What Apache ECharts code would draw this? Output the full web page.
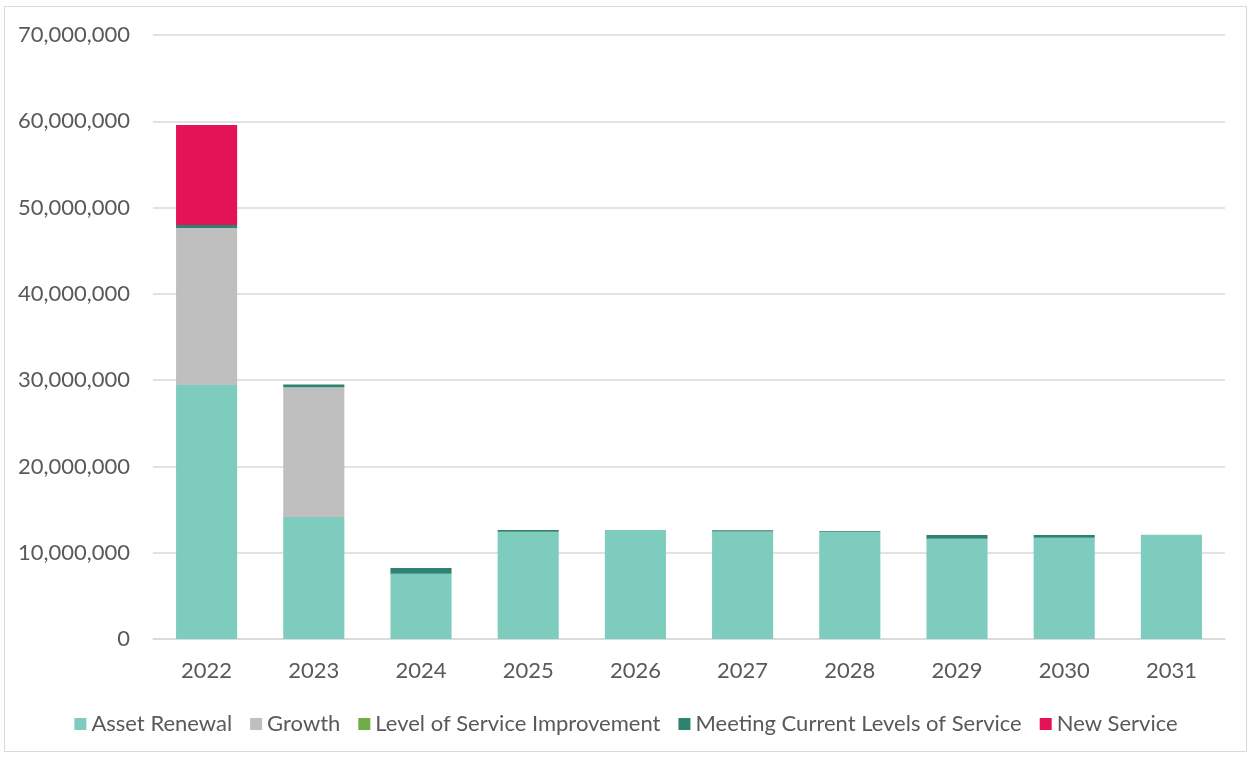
<!DOCTYPE html>
<html><head><meta charset="utf-8">
<script src="https://cdn.jsdelivr.net/npm/echarts@6/dist/echarts.min.js"></script>
<style>
html,body{margin:0;padding:0;background:#fff;}
#frame{position:absolute;left:4px;top:6px;width:1243px;height:746px;border:1px solid #d9d9d9;box-sizing:border-box;}
#chart{position:absolute;left:0;top:0;width:1252px;height:758px;}
</style></head>
<body>
<div id="frame"></div>
<div id="chart"></div>
<script>
const categories = ['2022','2023','2024','2025','2026','2027','2028','2029','2030','2031'];
const assetRenewal = [29430000,14140000,7570000,12440000,12630000,12450000,12420000,11620000,11740000,12090000];
const growth = [18200000,15030000,0,0,0,0,0,0,0,0];
const levelOfServiceImprovement = [0,0,0,0,0,0,0,0,0,0];
const meetingCurrentLevels = [350000,330000,660000,190000,0,150000,100000,430000,310000,0];
const newService = [11590000,0,0,0,0,0,0,0,0,0];
const seriesNames = ['Asset Renewal','Growth','Level of Service Improvement','Meeting Current Levels of Service','New Service'];
const yTicks = {min:0, max:70000000, interval:10000000};

const colors = ['#7ECCBE','#BFBFBF','#70AD47','#2E8270','#E31356'];
const dataSets = [assetRenewal, growth, levelOfServiceImprovement, meetingCurrentLevels, newService];
const font = 'Lato, "Open Sans", sans-serif';

const chart = echarts.init(document.getElementById('chart'));
chart.setOption({
  animation:false,
  color: colors,
  grid:{left:153, right:27, top:35, bottom:119, containLabel:false},
  legend:{
    bottom:18, left:'center', itemWidth:12, itemHeight:12, itemGap:18,
    icon:'rect',
    textStyle:{color:'#595959', fontSize:22, fontFamily:font, padding:[0,0,0,0]},
    data: seriesNames
  },
  xAxis:{
    type:'category', data:categories,
    axisLine:{lineStyle:{color:'#d9d9d9', width:1.5}},
    axisTick:{show:false},
    axisLabel:{color:'#595959', fontSize:22, fontFamily:font, margin:21}
  },
  yAxis:{
    type:'value', min:yTicks.min, max:yTicks.max, interval:yTicks.interval,
    axisLine:{show:false}, axisTick:{show:false},
    splitLine:{lineStyle:{color:'#d9d9d9', width:1.5}},
    axisLabel:{color:'#595959', fontSize:22, fontFamily:font, margin:23,
      formatter:v=>v.toLocaleString('en-US')}
  },
  series: seriesNames.map((n,i)=>({
    name:n, type:'bar', stack:'total', data:dataSets[i],
    barWidth:'57%',
    itemStyle:{color:colors[i]}
  }))
});
</script>
</body></html>
